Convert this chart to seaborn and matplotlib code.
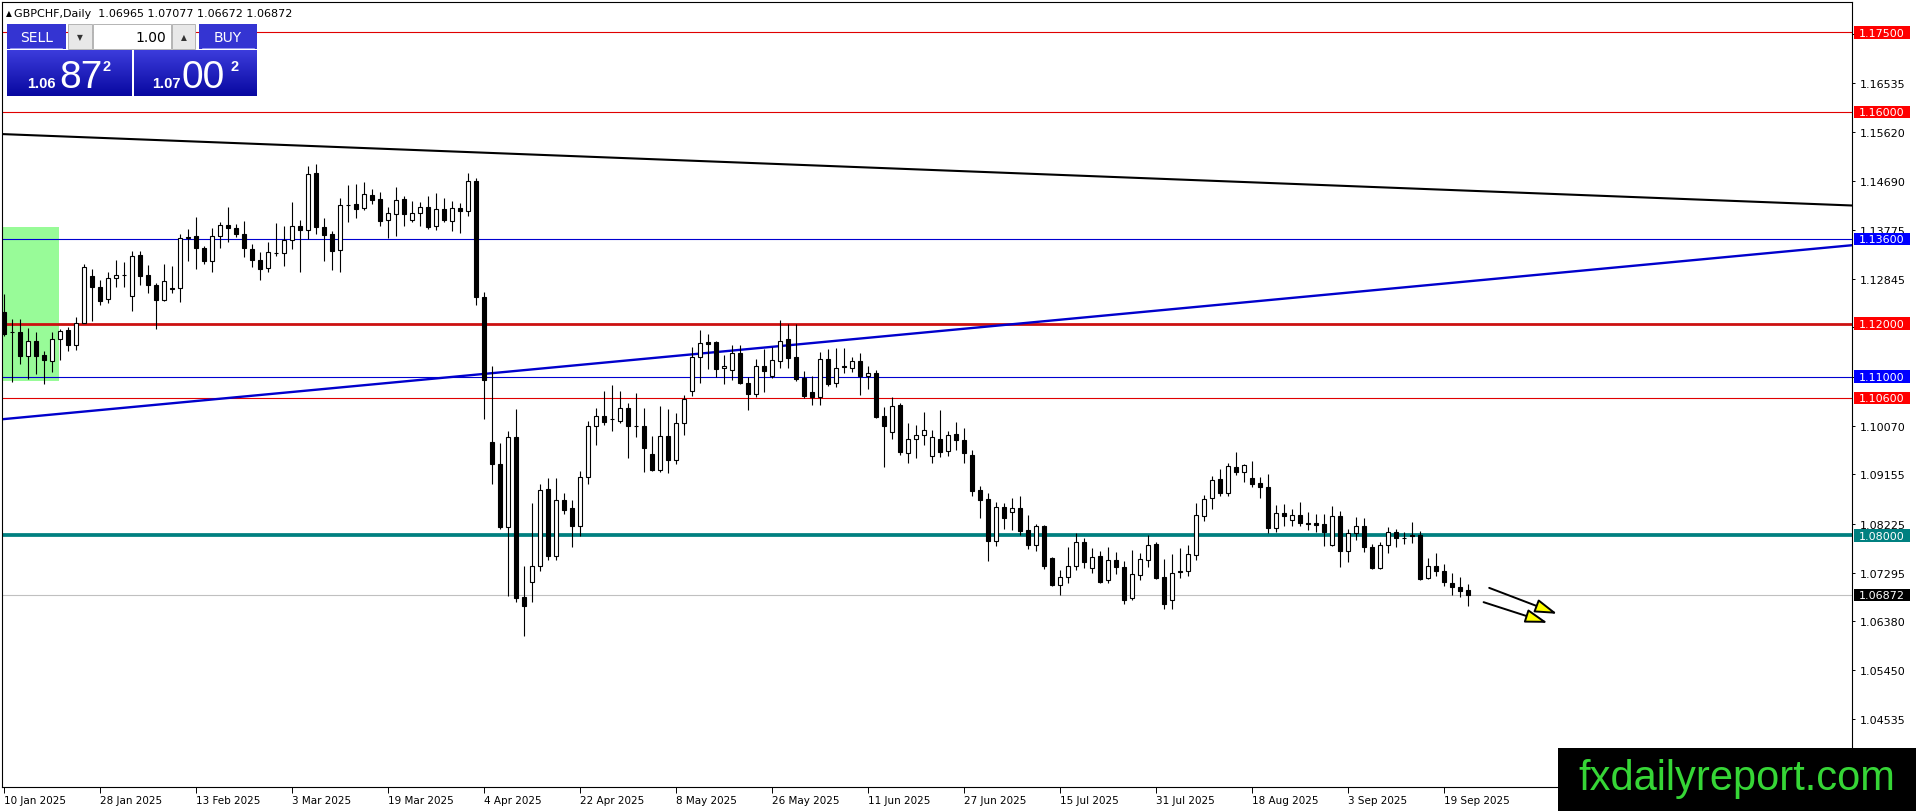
import numpy as np
import pandas as pd
import matplotlib
matplotlib.use("Agg")
import matplotlib.pyplot as plt
import seaborn as sns
from matplotlib.patches import Rectangle
from matplotlib.colors import LinearSegmentedColormap

sns.set_theme(style="white")
plt.rcParams['font.family'] = ['DejaVu Sans']

# ---------------- data ----------------
symbol = "GBPCHF,Daily"
start_date = "2025-01-10"

opens = [1.1221, 1.1185, 1.1185, 1.1138, 1.1167, 1.1141, 1.1129, 1.1170, 1.1187, 1.1160,
         1.1202, 1.1289, 1.1270, 1.1247, 1.1286, 1.1292, 1.1252, 1.1330, 1.1292, 1.1273,
         1.1245, 1.1267, 1.1267, 1.1362, 1.1365, 1.1343, 1.1319, 1.1365, 1.1387, 1.1380,
         1.1370, 1.1341, 1.1320, 1.1305, 1.1334, 1.1333, 1.1358, 1.1384, 1.1377, 1.1484,
         1.1382, 1.1369, 1.1339, 1.1423, 1.1426, 1.1418, 1.1443, 1.1435, 1.1396, 1.1406,
         1.1435, 1.1396, 1.1408, 1.1420, 1.1384, 1.1416, 1.1393, 1.1418, 1.1413, 1.1469,
         1.1250, 1.0976, 1.0935, 1.0816, 1.0985, 1.0683, 1.0713, 1.0742, 1.0888, 1.0762,
         1.0867, 1.0852, 1.0818, 1.0910, 1.1006, 1.1026, 1.1020, 1.1017, 1.1040, 1.1007,
         1.1007, 1.0954, 1.0924, 1.0987, 1.0943, 1.1012, 1.1073, 1.1136, 1.1165, 1.1166,
         1.1116, 1.1113, 1.1145, 1.1088, 1.1067, 1.1119, 1.1101, 1.1130, 1.1170, 1.1136,
         1.1097, 1.1070, 1.1061, 1.1133, 1.1087, 1.1119, 1.1116, 1.1130, 1.1101, 1.1106,
         1.1025, 1.0996, 1.1046, 1.0956, 1.0983, 1.0990, 1.0950, 1.0983, 1.0959, 1.0992,
         1.0980, 1.0952, 1.0886, 1.0869, 1.0790, 1.0853, 1.0844, 1.0852, 1.0811, 1.0782,
         1.0818, 1.0757, 1.0707, 1.0721, 1.0742, 1.0787, 1.0739, 1.0761, 1.0715, 1.0754,
         1.0740, 1.0682, 1.0726, 1.0754, 1.0783, 1.0721, 1.0679, 1.0732, 1.0732, 1.0764,
         1.0837, 1.0870, 1.0907, 1.0881, 1.0929, 1.0919, 1.0908, 1.0899, 1.0891, 1.0814,
         1.0842, 1.0830, 1.0839, 1.0823, 1.0824, 1.0822, 1.0781, 1.0836, 1.0770, 1.0804,
         1.0817, 1.0779, 1.0738, 1.0781, 1.0806, 1.0795, 1.0801, 1.0801, 1.0719, 1.0742,
         1.0732, 1.0710, 1.0702, 1.06965]
highs = [1.1256, 1.1209, 1.1209, 1.1192, 1.1184, 1.1149, 1.1184, 1.1190, 1.1193, 1.1212,
         1.1313, 1.1303, 1.1283, 1.1297, 1.1320, 1.1316, 1.1337, 1.1338, 1.1311, 1.1276,
         1.1313, 1.1308, 1.1369, 1.1379, 1.1401, 1.1347, 1.1380, 1.1392, 1.1421, 1.1388,
         1.1393, 1.1350, 1.1335, 1.1354, 1.1390, 1.1384, 1.1430, 1.1396, 1.1497, 1.1501,
         1.1399, 1.1375, 1.1437, 1.1462, 1.1464, 1.1468, 1.1455, 1.1448, 1.1420, 1.1457,
         1.1440, 1.1431, 1.1429, 1.1440, 1.1447, 1.1437, 1.1431, 1.1427, 1.1484, 1.1474,
         1.1259, 1.1119, 1.0974, 1.0998, 1.1039, 1.0742, 1.0861, 1.0897, 1.0908, 1.0908,
         1.0880, 1.0866, 1.0921, 1.1017, 1.1040, 1.1073, 1.1084, 1.1073, 1.1051, 1.1069,
         1.1040, 1.0988, 1.1044, 1.1039, 1.1031, 1.1065, 1.1155, 1.1188, 1.1180, 1.1168,
         1.1141, 1.1160, 1.1160, 1.1099, 1.1133, 1.1152, 1.1155, 1.1206, 1.1199, 1.1199,
         1.1111, 1.1101, 1.1146, 1.1152, 1.1153, 1.1153, 1.1136, 1.1144, 1.1120, 1.1112,
         1.1042, 1.1061, 1.1051, 1.1012, 1.1009, 1.1033, 1.0999, 1.1037, 1.0997, 1.1015,
         1.1003, 1.0961, 1.0893, 1.0880, 1.0863, 1.0861, 1.0871, 1.0874, 1.0838, 1.0822,
         1.0820, 1.0759, 1.0735, 1.0778, 1.0805, 1.0795, 1.0776, 1.0770, 1.0778, 1.0768,
         1.0752, 1.0773, 1.0767, 1.0800, 1.0787, 1.0756, 1.0765, 1.0776, 1.0781, 1.0861,
         1.0876, 1.0913, 1.0926, 1.0936, 1.0958, 1.0935, 1.0940, 1.0910, 1.0916, 1.0858,
         1.0859, 1.0850, 1.0864, 1.0844, 1.0841, 1.0841, 1.0855, 1.0847, 1.0813, 1.0834,
         1.0833, 1.0784, 1.0787, 1.0815, 1.0812, 1.0807, 1.0825, 1.0809, 1.0757, 1.0767,
         1.0746, 1.0730, 1.0721, 1.07077]
lows = [1.1177, 1.1090, 1.1124, 1.1095, 1.1105, 1.1086, 1.1109, 1.1132, 1.1149, 1.1151,
        1.1201, 1.1205, 1.1236, 1.1239, 1.1270, 1.1270, 1.1224, 1.1272, 1.1258, 1.1189,
        1.1243, 1.1258, 1.1241, 1.1319, 1.1304, 1.1313, 1.1298, 1.1343, 1.1354, 1.1363,
        1.1325, 1.1306, 1.1283, 1.1298, 1.1327, 1.1308, 1.1341, 1.1297, 1.1360, 1.1370,
        1.1318, 1.1302, 1.1298, 1.1392, 1.1399, 1.1415, 1.1426, 1.1384, 1.1361, 1.1366,
        1.1384, 1.1391, 1.1385, 1.1379, 1.1377, 1.1391, 1.1375, 1.1371, 1.1404, 1.1236,
        1.1019, 1.0898, 1.0812, 1.0686, 1.0675, 1.0610, 1.0674, 1.0732, 1.0754, 1.0754,
        1.0840, 1.0779, 1.0799, 1.0898, 1.0970, 1.1009, 1.0998, 1.1012, 1.0947, 1.0985,
        1.0919, 1.0922, 1.0919, 1.0917, 1.0935, 1.0990, 1.1064, 1.1088, 1.1114, 1.1099,
        1.1086, 1.1094, 1.1086, 1.1036, 1.1061, 1.1071, 1.1097, 1.1116, 1.1116, 1.1092,
        1.1059, 1.1046, 1.1046, 1.1082, 1.1081, 1.1107, 1.1108, 1.1065, 1.1077, 1.1022,
        1.0930, 1.0982, 1.0951, 1.0937, 1.0947, 1.0971, 1.0936, 1.0949, 1.0950, 1.0962,
        1.0936, 1.0875, 1.0832, 1.0752, 1.0780, 1.0812, 1.0811, 1.0801, 1.0774, 1.0771,
        1.0737, 1.0705, 1.0688, 1.0710, 1.0735, 1.0739, 1.0730, 1.0710, 1.0710, 1.0727,
        1.0671, 1.0679, 1.0715, 1.0740, 1.0718, 1.0662, 1.0662, 1.0719, 1.0724, 1.0754,
        1.0828, 1.0850, 1.0875, 1.0875, 1.0915, 1.0901, 1.0892, 1.0871, 1.0805, 1.0807,
        1.0818, 1.0818, 1.0818, 1.0811, 1.0806, 1.0780, 1.0780, 1.0740, 1.0749, 1.0791,
        1.0768, 1.0737, 1.0737, 1.0766, 1.0779, 1.0784, 1.0786, 1.0715, 1.0718, 1.0724,
        1.0705, 1.0688, 1.0683, 1.06672]
closes = [1.1180, 1.1184, 1.1138, 1.1167, 1.1139, 1.1132, 1.1170, 1.1186, 1.1160, 1.1202,
          1.1306, 1.1270, 1.1243, 1.1286, 1.1292, 1.1291, 1.1327, 1.1290, 1.1272, 1.1245,
          1.1281, 1.1266, 1.1361, 1.1363, 1.1342, 1.1319, 1.1366, 1.1387, 1.1380, 1.1370,
          1.1342, 1.1321, 1.1304, 1.1335, 1.1333, 1.1358, 1.1384, 1.1376, 1.1482, 1.1382,
          1.1368, 1.1338, 1.1423, 1.1424, 1.1416, 1.1445, 1.1434, 1.1394, 1.1409, 1.1434,
          1.1406, 1.1409, 1.1420, 1.1383, 1.1416, 1.1396, 1.1418, 1.1413, 1.1469, 1.1250,
          1.1094, 1.0934, 1.0816, 1.0985, 1.0681, 1.0666, 1.0742, 1.0886, 1.0762, 1.0867,
          1.0848, 1.0818, 1.0910, 1.1006, 1.1026, 1.1015, 1.1019, 1.1040, 1.1006, 1.1006,
          1.0965, 1.0924, 1.0987, 1.0943, 1.1012, 1.1058, 1.1136, 1.1163, 1.1162, 1.1114,
          1.1119, 1.1145, 1.1087, 1.1067, 1.1119, 1.1111, 1.1132, 1.1168, 1.1135, 1.1095,
          1.1064, 1.1061, 1.1133, 1.1086, 1.1117, 1.1118, 1.1130, 1.1101, 1.1106, 1.1024,
          1.1007, 1.1044, 1.0957, 1.0983, 1.0990, 1.1000, 1.0985, 1.0958, 1.0990, 1.0981,
          1.0956, 1.0884, 1.0867, 1.0790, 1.0853, 1.0832, 1.0851, 1.0809, 1.0782, 1.0818,
          1.0743, 1.0707, 1.0721, 1.0742, 1.0787, 1.0749, 1.0759, 1.0713, 1.0754, 1.0740,
          1.0679, 1.0727, 1.0756, 1.0782, 1.0719, 1.0671, 1.0730, 1.0731, 1.0765, 1.0839,
          1.0869, 1.0905, 1.0880, 1.0931, 1.0919, 1.0933, 1.0898, 1.0891, 1.0814, 1.0842,
          1.0837, 1.0839, 1.0823, 1.0822, 1.0820, 1.0807, 1.0836, 1.0771, 1.0804, 1.0817,
          1.0778, 1.0738, 1.0782, 1.0806, 1.0795, 1.0796, 1.0798, 1.0718, 1.0742, 1.0732,
          1.0713, 1.0702, 1.0695, 1.06872]

date_ticks = ["10 Jan 2025", "28 Jan 2025", "13 Feb 2025", "3 Mar 2025", "19 Mar 2025",
              "4 Apr 2025", "22 Apr 2025", "8 May 2025", "26 May 2025", "11 Jun 2025",
              "27 Jun 2025", "15 Jul 2025", "31 Jul 2025", "18 Aug 2025", "3 Sep 2025",
              "19 Sep 2025"]
bars_per_tick = 12

price_ticks = [1.17465, 1.16535, 1.15620, 1.14690, 1.13775, 1.12845, 1.11930, 1.11000,
               1.10070, 1.09155, 1.08225, 1.07295, 1.06380, 1.05450, 1.04535]
hidden_price_labels = [1.17465, 1.11930, 1.11000]

level_prices = [1.17500, 1.16000, 1.13600, 1.12000, 1.11000, 1.10600, 1.08000]
level_colors = ["#e00000", "#e00000", "#0000d0", "#cc1010", "#0000d0", "#e00000", "#008080"]
level_widths = [0.8, 0.8, 0.8, 2.0, 0.8, 0.8, 2.7]
level_tags = ["#ff0000", "#ff0000", "#0000ff", "#ff0000", "#0000ff", "#ff0000", "#008080"]
last_price = 1.06872

resist_trend_x = [-0.45, 231.05]
resist_trend_y = [1.1558, 1.1423]
support_trend_x = [-0.45, 231.05]
support_trend_y = [1.1019, 1.1348]

zone_x = [-1.0, 6.9]
zone_y = [1.1092, 1.1382]

arrow_starts = [(185.7, 1.0701), (185.0, 1.0674)]
arrow_ends = [(194.2, 1.0652), (193.0, 1.0635)]

# ---------------- figure ----------------
W, H = 1916, 812
fig = plt.figure(figsize=(W / 100, H / 100), dpi=100)
fig.patch.set_facecolor("white")
ax = fig.add_axes([2 / W, (H - 788) / H, (1852 - 2) / W, (788 - 2.7) / H])
ax.set_facecolor("white")

n = len(opens)
df = pd.DataFrame({"date": pd.bdate_range(start_date, periods=n),
                   "open": opens, "high": highs, "low": lows, "close": closes})
df["i"] = np.arange(n)
o = df["open"].to_numpy(); c = df["close"].to_numpy()
up = c >= o

# green zone
ax.add_patch(Rectangle((zone_x[0], zone_y[0]), zone_x[1] - zone_x[0], zone_y[1] - zone_y[0],
                       facecolor="#98fb98", edgecolor="none", zorder=1))

# horizontal levels
for p, col, lw in zip(level_prices, level_colors, level_widths):
    ax.axhline(p, color=col, lw=lw, zorder=2)
ax.axhline(last_price, color="#c0c0c0", lw=0.8, zorder=2)

# trend lines via seaborn
sns.lineplot(x=resist_trend_x, y=resist_trend_y, ax=ax, color="black", lw=1.5, zorder=2.5)
sns.lineplot(x=support_trend_x, y=support_trend_y, ax=ax, color="#0000cc", lw=1.7, zorder=2.5)

# candles
ax.vlines(df["i"], df["low"], df["high"], color="black", lw=0.8, zorder=3)
ax.bar(df["i"][up], (c - o)[up], bottom=o[up], width=0.5, color="white",
       edgecolor="black", linewidth=0.8, zorder=4)
ax.bar(df["i"][~up], (o - c)[~up], bottom=c[~up], width=0.5, color="black",
       edgecolor="black", linewidth=0.8, zorder=4)

# arrows
for s, e in zip(arrow_starts, arrow_ends):
    ax.annotate("", xy=e, xytext=s, zorder=6,
                arrowprops=dict(arrowstyle="-|>,head_length=0.9,head_width=0.28",
                                fc="#ffff00", ec="black", lw=1.4,
                                shrinkA=0, shrinkB=0, mutation_scale=15))

ax.set_xlim(-0.2, 231.05)
ax.set_ylim(1.0325, 1.18078)
ax.set_xlabel(""); ax.set_ylabel("")
ax.grid(False)

ax.yaxis.tick_right()
ax.set_yticks(price_ticks)
ax.set_yticklabels(["" if p in hidden_price_labels else f"{p:.5f}" for p in price_ticks])
ax.tick_params(axis="y", which="both", direction="out", length=2.5, width=0.7, pad=2.8,
               labelsize=8, colors="black", right=True, left=False)
ax.set_xticks(np.arange(len(date_ticks)) * bars_per_tick)
ax.set_xticklabels(date_ticks)
for t in ax.get_xticklabels():
    t.set_horizontalalignment("left")
ax.tick_params(axis="x", direction="out", length=4, width=0.7, pad=1.5,
               labelsize=7.5, colors="black", bottom=True)
for sp in ax.spines.values():
    sp.set_visible(True); sp.set_color("black"); sp.set_linewidth(0.8)

# ---------------- overlay (pixel coordinates) ----------------
ov = fig.add_axes([0, 0, 1, 1], zorder=10)
ov.axis("off")


def py(price):
    return H - ax.transData.transform((0, price))[1]


for p, col in zip(level_prices + [last_price], level_tags + ["#000000"]):
    y = py(p)
    ov.add_patch(Rectangle((1854, y - 6.2), 56, 12.4, facecolor=col, edgecolor="none"))
    ov.text(1859, y + 0.3, f"{p:.5f}", color="white", fontsize=8, va="center", ha="left")

# header
ov.text(6, 14, "\u25b2", fontsize=5.5, va="center", ha="left", color="black")
ov.text(14, 14, f"{symbol}  {opens[-1]:.5f} {highs[-1]:.5f} {lows[-1]:.5f} {closes[-1]:.5f}",
        fontsize=8, va="center", ha="left", color="black")

# trade panel
btn = "#3434d2"
ov.add_patch(Rectangle((7, 25), 59, 25, facecolor=btn, edgecolor="none"))
ov.plot([10, 62], [49.3, 49.3], color="#9a9af0", lw=0.7)
ov.text(36.5, 37.5, "SELL", color="white", fontsize=10, ha="center", va="center")
ov.add_patch(Rectangle((68, 25), 24, 25, facecolor="#e8e8e8", edgecolor="#b4b4b4", lw=0.7))
ov.text(80, 37.5, "\u25bc", fontsize=5.5, ha="center", va="center", color="#333333")
ov.add_patch(Rectangle((93, 25), 78, 25, facecolor="white", edgecolor="#b4b4b4", lw=0.7))
ov.text(166, 37.5, "1.00", fontsize=10, ha="right", va="center", color="black")
ov.add_patch(Rectangle((172, 25), 23, 25, facecolor="#e8e8e8", edgecolor="#b4b4b4", lw=0.7))
ov.text(183.5, 37.5, "\u25b2", fontsize=5.5, ha="center", va="center", color="#333333")
ov.add_patch(Rectangle((199, 25), 58, 25, facecolor=btn, edgecolor="none"))
ov.plot([202, 254], [49.3, 49.3], color="#9a9af0", lw=0.7)
ov.text(228, 37.5, "BUY", color="white", fontsize=10, ha="center", va="center")

grad = np.linspace(0, 1, 60).reshape(-1, 1)
cmap = LinearSegmentedColormap.from_list("panel", ["#3c3cdc", "#0808a0"])
for x0, x1 in [(7, 132), (134, 257)]:
    ov.imshow(grad, extent=(x0, x1, 97, 51), aspect="auto", cmap=cmap, origin="upper",
              interpolation="bilinear")

bid, ask = "1.06872", "1.07002"
for big, x_small, x_big, x_sup in [(bid, 27, 59, 103), (ask, 152, 182, 231)]:
    ov.text(x_small, 88, big[:4], color="white", fontsize=10.5, fontweight="bold",
            family="Liberation Sans", ha="left", va="baseline")
    ov.text(x_big, 88, big[4:6], color="white", fontsize=28,
            family="Liberation Sans", ha="left", va="baseline")
    ov.text(x_sup, 60, big[6], color="white", fontsize=10.5, fontweight="bold",
            family="Liberation Sans", ha="left", va="top")

# watermark
ov.add_patch(Rectangle((1558, 749), 358, 63, facecolor="black", edgecolor="none"))
ov.text(1737, 790, "fxdailyreport.com", color="#36d636", fontsize=30,
        family="Liberation Sans", ha="center", va="baseline")

ov.set_xlim(0, W)
ov.set_ylim(H, 0)

fig.savefig("out.png", dpi=100, facecolor="white")
